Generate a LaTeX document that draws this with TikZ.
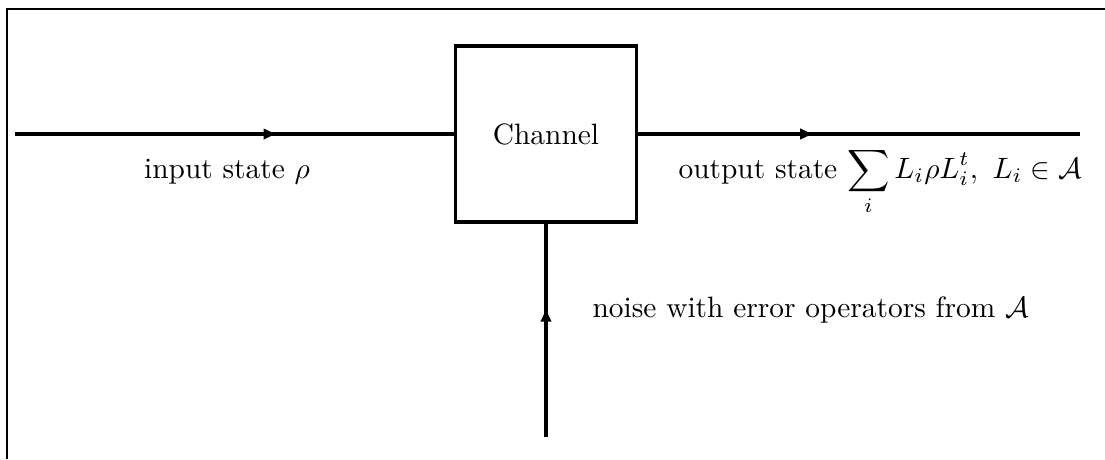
\documentclass[tikz,border=0pt]{standalone}
\usepackage{amsmath,amssymb}
\usetikzlibrary{positioning,arrows.meta,decorations.markings}
\tikzset{
  wire/.style={very thick},
  midarrow/.style={postaction={decorate},
    decoration={markings,mark=at position #1 with {\arrow{Latex[length=5pt,width=4pt]}}}},
  chanbox/.style={draw,very thick,minimum width=61.5pt,minimum height=59.8pt,inner sep=0pt},
  lbl/.style={inner sep=0pt},
}
\begin{document}
\begin{tikzpicture}[x=0.34pt,y=0.34pt]
  \useasboundingbox (0,0) rectangle (1105,459);
  % frame is cut off: only left and top edges show
  \draw[semithick] (7,0) -- (7,450) -- (1105,450);
  \node[chanbox] (chan) at (546,325) {Channel};
  \coordinate (src) at (15,325);
  \coordinate (snk) at (1080,325);
  \coordinate (noise) at (546,22);
  \draw[wire,midarrow=0.6] (src) -- (chan.west);
  \draw[wire,midarrow=0.4] (chan.east) -- (snk);
  \draw[wire,midarrow=0.61] (noise) -- (chan.south);
  % labels under the wires
  \node[lbl,anchor=base] (inlbl) at (227,281) {input state $\rho$};
  \node[lbl,anchor=base west] (outlbl) at (678,281)
    {output state $\displaystyle\sum_i L_i\rho L_i^t,\ L_i\in\mathcal{A}$};
  \node[lbl,anchor=base west] (noiselbl) at (592,142)
    {noise with error operators from $\mathcal{A}$};
\end{tikzpicture}
\end{document}
